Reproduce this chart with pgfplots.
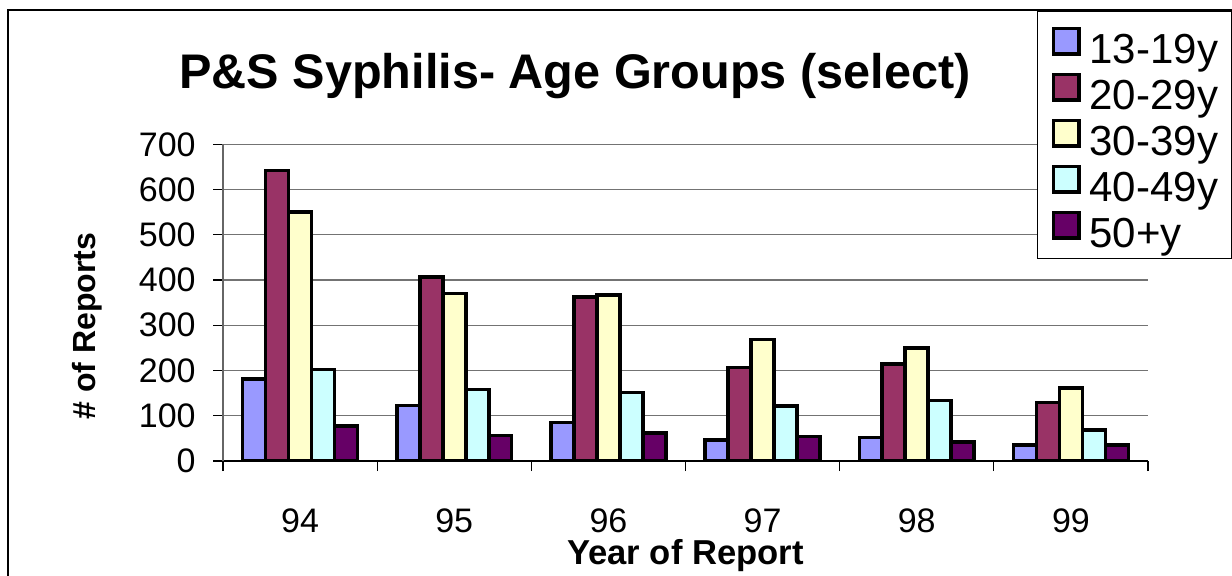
\documentclass[border=0pt]{standalone}
\usepackage{pgfplots}
\pgfplotsset{compat=1.18}
\usepackage{fontspec}
\setmainfont{Liberation Sans}
\definecolor{cA}{HTML}{9999FF}
\definecolor{cB}{HTML}{993366}
\definecolor{cC}{HTML}{FFFFCC}
\definecolor{cD}{HTML}{CCFFFF}
\definecolor{cE}{HTML}{660066}
\begin{document}
\begin{tikzpicture}
\path[use as bounding box] (0,0) rectangle (616pt,287.5pt);
\draw[line width=0.6pt] (4pt,-5pt) -- (4pt,282.5pt) -- (700pt,282.5pt);
\begin{axis}[
  at={(111.5pt,57pt)}, anchor=south west,
  scale only axis, width=462.5pt, height=158.35pt,
  xmin=-0.5, xmax=5.5, ymin=0, ymax=700,
  xtick={-0.5,0.5,...,5.5},
  x tick label as interval,
  xticklabels={94,95,96,97,98,99},
  ytick={0,100,...,700},
  ymajorgrids,
  major grid style={black!55, line width=0.7pt},
  axis x line*=bottom, axis y line*=left,
  x axis line style={-, black, line width=0.6pt},
  y axis line style={-, black!60, line width=0.6pt},
  tick align=outside, major tick length=5pt,
  tick style={black, line width=0.6pt},
  /pgf/number format/assume math mode=true,
  ticklabel style={font=\fontsize{17}{20}\selectfont},
  xticklabel style={anchor=base, inner ysep=0pt, yshift=-30.5pt},
  yticklabel style={inner xsep=0pt, xshift=-8.5pt},
  xlabel={Year of Report},
  ylabel={\# of Reports},
  xlabel style={font=\bfseries\fontsize{17.3}{20}\selectfont, inner ysep=0pt, at={(axis description cs:0.5,-0.298)}, anchor=center},
  ylabel style={font=\bfseries\fontsize{16}{19}\selectfont, at={(axis description cs:-0.147,0.426)}, anchor=center},
  ybar=0pt, bar width=0.149,
  every axis plot/.append style={draw=black, line width=1.8pt},
  legend image code/.code={\draw[#1, line width=1.8pt] (0.9pt,-5.4pt) rectangle (13.6pt,7.3pt);},
  legend cell align=left,
  legend style={at={(axis description cs:0.88,1.4219)}, anchor=north west,
    draw=black, line width=0.6pt, fill=white,
    font=\fontsize{21}{23}\selectfont,
    inner xsep=7pt, inner ysep=4.35pt, row sep=0pt, column sep=4.5pt,
    nodes={inner sep=0pt, text height=21.8pt, text depth=1.2pt}},
]
\addplot[fill=cA, bar shift=-0.298] coordinates {(0,181) (1,123) (2,85) (3,47) (4,52) (5,36)};
\addplot[fill=cB, bar shift=-0.149] coordinates {(0,642) (1,407) (2,362) (3,207) (4,214) (5,129)};
\addplot[fill=cC, bar shift=0] coordinates {(0,551) (1,370) (2,367) (3,269) (4,250) (5,161)};
\addplot[fill=cD, bar shift=0.149] coordinates {(0,202) (1,158) (2,151) (3,121) (4,134) (5,69)};
\addplot[fill=cE, bar shift=0.298] coordinates {(0,78) (1,56) (2,62) (3,54) (4,42) (5,36)};
\legend{13-19y,20-29y,30-39y,40-49y,50+y}
\end{axis}
\node[font=\bfseries\fontsize{24.3}{29}\selectfont, anchor=base] at (287.5pt,243.5pt) {P\&S Syphilis- Age Groups (select)};
\end{tikzpicture}
\end{document}
